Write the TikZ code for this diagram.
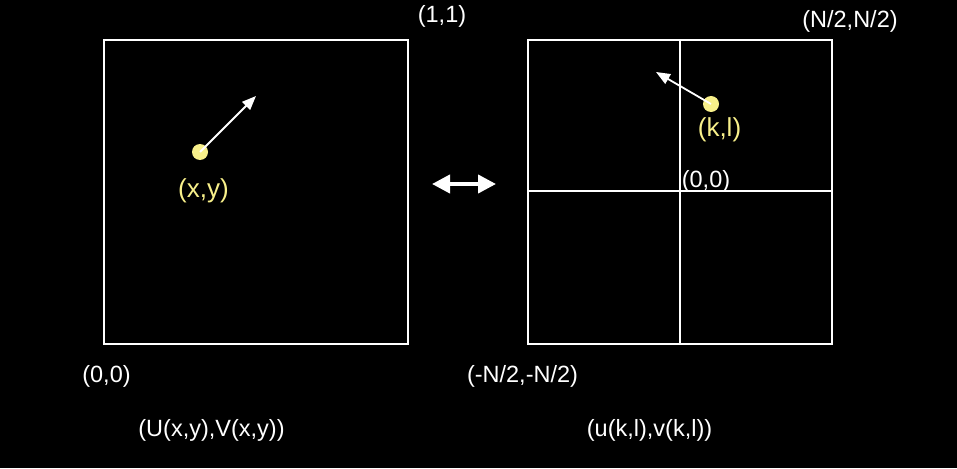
\documentclass[tikz,border=0pt]{standalone}
\usepackage{fontspec}
\setmainfont{Liberation Sans}
\usetikzlibrary{arrows.meta}
\definecolor{dotyellow}{HTML}{F8F08A}
\begin{document}
\begin{tikzpicture}[x=1pt,y=-1pt,
  frame/.style={draw=white,line width=1.8pt},
  lbl/.style={text=white,font=\fontsize{23.5}{28}\selectfont,inner sep=0pt},
  ylbl/.style={text=dotyellow,font=\fontsize{26}{30}\selectfont,inner sep=0pt},
  dot/.style={circle,fill=dotyellow,minimum size=16pt,inner sep=0pt},
  vec/.style={draw=white,line width=1.8pt,-{Triangle[length=14pt,width=11pt]}},
  dbl/.style={draw=white,line width=4pt,{Triangle[length=18pt,width=18pt]}-{Triangle[length=18pt,width=18pt]}}]
\fill[black] (0,0) rectangle (957,468);
\useasboundingbox (0,0) rectangle (957,468);
% left square
\draw[frame] (104,40) rectangle (408,344);
% right square
\draw[frame] (528,40) rectangle (832,344);
\draw[frame] (680,40) -- (680,344);
\draw[frame] (528,191) -- (832,191);
% dots and vectors
\node[dot] (p) at (200,152) {};
\coordinate (pt) at (256,96);
\draw[vec] (p.center) -- (pt);
\node[dot] (q) at (711,104) {};
\coordinate (qt) at (656,72);
\draw[vec] (q.center) -- (qt);
% double arrow
\coordinate (da) at (432,184);
\coordinate (db) at (496,184);
\draw[dbl] (da) -- (db);
% labels
\node[ylbl] (xy) at (203.5,191) {(x,y)};
\node[ylbl] (kl) at (719.5,130) {(k,l)};
\node[lbl] (o2) at (706,181) {(0,0)};
\node[lbl] (one) at (442,16) {(1,1)};
\node[lbl] (nn) at (850,21) {(N/2,N/2)};
\node[lbl] (o1) at (106.5,376) {(0,0)};
\node[lbl] (mnn) at (522.5,376) {(-N/2,-N/2)};
\node[lbl] (UV) at (211.5,430) {(U(x,y),V(x,y))};
\node[lbl] (uv) at (649.5,430) {(u(k,l),v(k,l))};
\end{tikzpicture}
\end{document}
